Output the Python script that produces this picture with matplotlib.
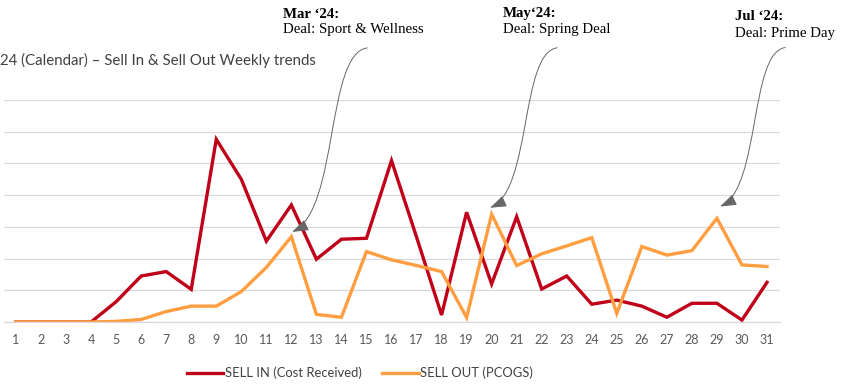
import numpy as np
import matplotlib
matplotlib.use("Agg")
import matplotlib.pyplot as plt
from matplotlib.patches import FancyArrowPatch
from matplotlib.path import Path

# weekly values (gridline units)
weeks = list(range(1, 32))
sell_in = [0, 0, 0, 0, 0.64, 1.45, 1.59, 1.03, 5.76, 4.50, 2.55, 3.69, 1.98, 2.61, 2.64,
           5.09, 2.68, 0.22, 3.46, 1.20, 3.32, 1.04, 1.45, 0.56, 0.69, 0.50, 0.15, 0.59,
           0.59, 0.06, 1.25]
sell_out = [0, 0, 0, 0, 0.02, 0.08, 0.33, 0.50, 0.50, 0.96, 1.72, 2.69, 0.24, 0.15, 2.22,
            1.96, 1.78, 1.59, 0.14, 3.40, 1.78, 2.15, 2.40, 2.66, 0.27, 2.38, 2.11, 2.25,
            3.27, 1.80, 1.75]

title = "24 (Calendar) \u2013 Sell In & Sell Out Weekly trends"
series_names = ["SELL IN (Cost Received)", "SELL OUT (PCOGS)"]

# deal callouts: header, description, arrow target (week, value)
deal_heads = ["Mar \u201824:", "May\u201824:", "Jul \u201824:"]
deal_texts = ["Deal: Sport & Wellness", "Deal: Spring Deal", "Deal: Prime Day"]
deal_targets = [(12.03, 2.84), (19.94, 3.60), (29.13, 3.64)]

RED = "#C00018"
ORANGE = "#FF9E40"
GRID = "#d9d9d9"

W, H = 847, 388
fig = plt.figure(figsize=(W / 100, H / 100), dpi=100)
ax = fig.add_axes([3.5 / W, 66 / H, 776 / W, 222 / H])

l1, = ax.plot(weeks, sell_in, color=RED, lw=2.4, solid_joinstyle="miter")
l2, = ax.plot(weeks, sell_out, color=ORANGE, lw=2.4, solid_joinstyle="miter")

ax.set_xlim(0.5, 31.5)
ax.set_ylim(0, 7)
ax.set_yticks(np.arange(0, 8))
ax.set_yticklabels([])
ax.set_xticks(weeks)
ax.tick_params(axis="y", length=0)
ax.tick_params(axis="x", length=0, pad=9, labelsize=9, labelcolor="#595959")
for lab in ax.get_xticklabels():
    lab.set_family("Lato")
ax.grid(axis="y", color=GRID, lw=0.9)
ax.set_axisbelow(True)
for s in ["top", "right", "left"]:
    ax.spines[s].set_visible(False)
ax.spines["bottom"].set_color(GRID)
ax.spines["bottom"].set_linewidth(0.9)

fig.text(0.0, 1 - 60 / H, title, ha="left", va="center", fontsize=10.8,
         family="Lato", color="#404040")

leg = fig.legend([l1, l2], series_names, loc="center", bbox_to_anchor=(360 / W, 1 - 373 / H),
                 ncol=2, frameon=False, handlelength=2.8, handletextpad=0.1,
                 columnspacing=1.6, prop={"family": "Lato", "size": 9.4})
for t in leg.get_texts():
    t.set_color("#404040")

# callout texts
text_pos = [(283, 14, 30), (503, 14, 30), (735, 17, 33)]
for (x, y1, y2), head, txt in zip(text_pos, deal_heads, deal_texts):
    fig.text(x / W, 1 - y1 / H, head, ha="left", va="center", fontsize=10.7,
             family="Liberation Serif", weight="bold")
    fig.text(x / W, 1 - y2 / H, txt, ha="left", va="center", fontsize=10.7,
             family="Liberation Serif")

# curved arrows: tail offsets from tip in pixels (right, up)
tails = [(75, 184), (67, 160), (65, 159)]
inv = fig.transFigure.inverted()
for (wx, wy), (dx, dy) in zip(deal_targets, tails):
    tip = ax.transData.transform((wx, wy))
    p0 = tip + np.array([dx, dy])
    p1 = tip + np.array([dx * 0.45, dy * 0.97])
    p2 = tip + np.array([dx * 0.62, dy * 0.12])
    verts = inv.transform(np.array([p0, p1, p2, tip]))
    path = Path(verts, [Path.MOVETO, Path.CURVE4, Path.CURVE4, Path.CURVE4])
    arr = FancyArrowPatch(path=path, arrowstyle="-|>,head_length=1.0,head_width=0.35",
                          mutation_scale=10, color="#666666", lw=0.7,
                          transform=fig.transFigure)
    fig.add_artist(arr)

fig.savefig("out.png", dpi=100)
